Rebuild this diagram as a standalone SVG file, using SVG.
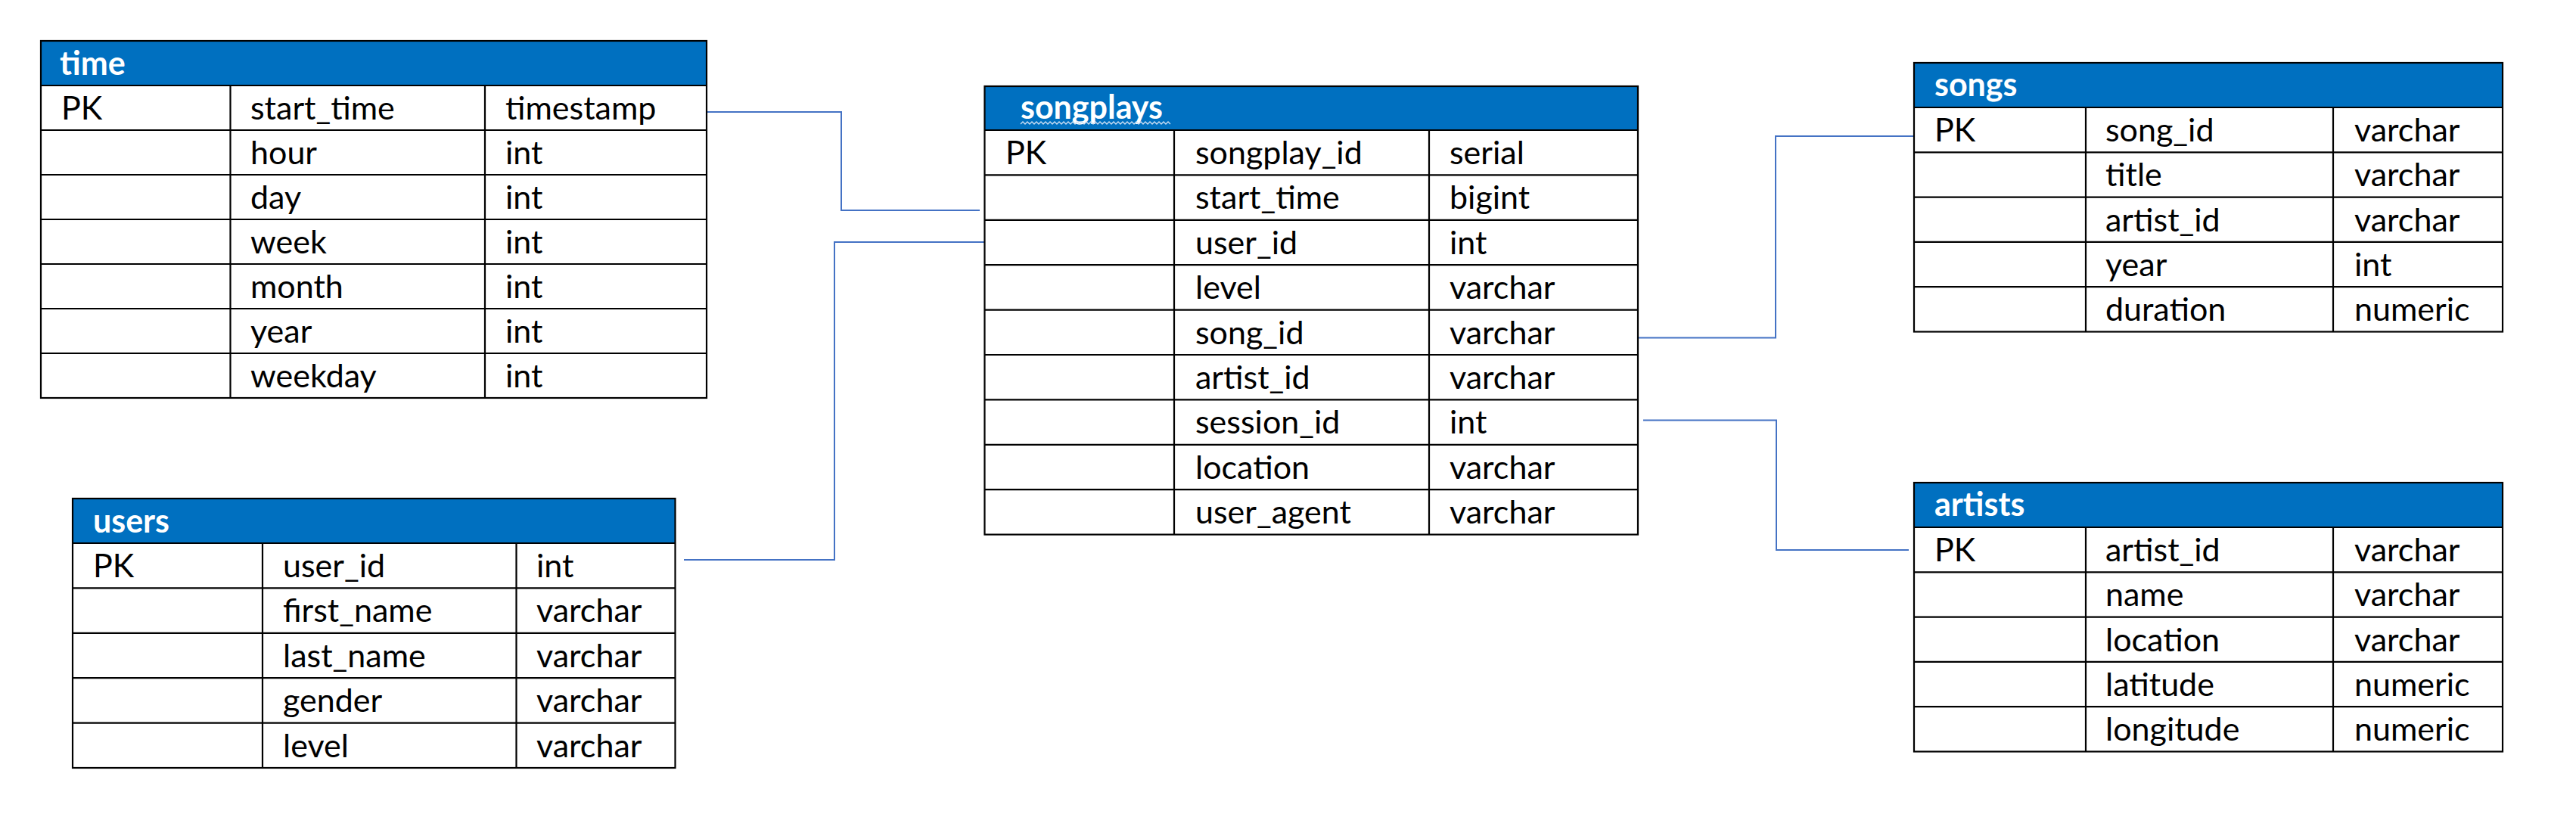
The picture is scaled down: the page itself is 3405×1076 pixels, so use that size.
<svg xmlns="http://www.w3.org/2000/svg" width="3405" height="1076" viewBox="0 0 3405 1076">
<style>
.bg{fill:#fff}
.hdr{fill:#0070C0}
.ln{stroke:#000;stroke-width:2.2;fill:none}
.t{font-family:Lato,"Liberation Sans",sans-serif;font-size:43px;fill:#000}
.h{font-family:Lato,"Liberation Sans",sans-serif;font-size:43px;font-weight:bold;fill:#fff}
.con{stroke:#4472C4;stroke-width:2;fill:none}
</style>
<rect width="3405" height="1076" fill="#fff"/>
<g id="connectors">
<polyline class="con" points="928,148 1112,148 1112,278 1295,278"/>
<polyline class="con" points="904,740 1103,740 1103,320 1302,320"/>
<polyline class="con" points="2163,446.5 2347,446.5 2347,180 2532,180"/>
<polyline class="con" points="2172,555.5 2348,555.5 2348,727 2523,727"/>
</g>
<g id="time">
<rect class="bg" x="54" y="54" width="880" height="472"/>
<rect class="hdr" x="54" y="54" width="880" height="59"/>
<path class="ln" d="M54,113H934M54,172H934M54,231H934M54,290H934M54,349H934M54,408H934M54,467H934M304.5,113V526M641,113V526"/>
<rect class="ln" x="54" y="54" width="880" height="472"/>
<text class="h" x="79" y="99">time</text>
<text class="t" x="81" y="158">PK</text>
<text class="t" x="331" y="158">start_time</text><text class="t" x="668" y="158">timestamp</text>
<text class="t" x="331" y="217">hour</text><text class="t" x="668" y="217">int</text>
<text class="t" x="331" y="276">day</text><text class="t" x="668" y="276">int</text>
<text class="t" x="331" y="335">week</text><text class="t" x="668" y="335">int</text>
<text class="t" x="331" y="394">month</text><text class="t" x="668" y="394">int</text>
<text class="t" x="331" y="453">year</text><text class="t" x="668" y="453">int</text>
<text class="t" x="331" y="512">weekday</text><text class="t" x="668" y="512">int</text>
</g>
<g id="songplays">
<rect class="bg" x="1301.5" y="114" width="863.5" height="592.6"/>
<rect class="hdr" x="1301.5" y="114" width="863.5" height="58"/>
<path class="ln" d="M1301.5,172H2165M1301.5,231.4H2165M1301.5,290.8H2165M1301.5,350.2H2165M1301.5,409.6H2165M1301.5,469H2165M1301.5,528.4H2165M1301.5,587.8H2165M1301.5,647.2H2165M1552,172V706.6M1889,172V706.6"/>
<rect class="ln" x="1301.5" y="114" width="863.5" height="592.6"/>
<text class="h" x="1349" y="157">songplays</text>
<path d="M1349,164 l3,-3 l3,3 l3,-3 l3,3 l3,-3 l3,3 l3,-3 l3,3 l3,-3 l3,3 l3,-3 l3,3 l3,-3 l3,3 l3,-3 l3,3 l3,-3 l3,3 l3,-3 l3,3 l3,-3 l3,3 l3,-3 l3,3 l3,-3 l3,3 l3,-3 l3,3 l3,-3 l3,3 l3,-3 l3,3 l3,-3 l3,3 l3,-3 l3,3 l3,-3 l3,3 l3,-3 l3,3 l3,-3 l3,3 l3,-3 l3,3 l3,-3 l3,3 l3,-3 l3,3 l3,-3 l3,3 l3,-3 l3,3 l3,-3 l3,3 l3,-3 l3,3 l3,-3 l3,3 l3,-3 l3,3 l3,-3 l3,3 l3,-3 l3,3 l3,-3 l3,3" fill="none" stroke="#cfe0f3" stroke-width="1.3"/>
<text class="t" x="1329" y="217">PK</text>
<text class="t" x="1580" y="217">songplay_id</text><text class="t" x="1916" y="217">serial</text>
<text class="t" x="1580" y="276.4">start_time</text><text class="t" x="1916" y="276.4">bigint</text>
<text class="t" x="1580" y="335.8">user_id</text><text class="t" x="1916" y="335.8">int</text>
<text class="t" x="1580" y="395.2">level</text><text class="t" x="1916" y="395.2">varchar</text>
<text class="t" x="1580" y="454.6">song_id</text><text class="t" x="1916" y="454.6">varchar</text>
<text class="t" x="1580" y="514">artist_id</text><text class="t" x="1916" y="514">varchar</text>
<text class="t" x="1580" y="573.4">session_id</text><text class="t" x="1916" y="573.4">int</text>
<text class="t" x="1580" y="632.8">location</text><text class="t" x="1916" y="632.8">varchar</text>
<text class="t" x="1580" y="692.2">user_agent</text><text class="t" x="1916" y="692.2">varchar</text>
</g>
<g id="songs">
<rect class="bg" x="2530" y="83" width="778" height="355.5"/>
<rect class="hdr" x="2530" y="83" width="778" height="59"/>
<path class="ln" d="M2530,142H3308M2530,201.3H3308M2530,260.6H3308M2530,319.9H3308M2530,379.2H3308M2757,142V438.5M3084,142V438.5"/>
<rect class="ln" x="2530" y="83" width="778" height="355.5"/>
<text class="h" x="2557" y="127">songs</text>
<text class="t" x="2557" y="187">PK</text>
<text class="t" x="2783" y="187">song_id</text><text class="t" x="3112" y="187">varchar</text>
<text class="t" x="2783" y="246.3">title</text><text class="t" x="3112" y="246.3">varchar</text>
<text class="t" x="2783" y="305.6">artist_id</text><text class="t" x="3112" y="305.6">varchar</text>
<text class="t" x="2783" y="364.9">year</text><text class="t" x="3112" y="364.9">int</text>
<text class="t" x="2783" y="424.2">duration</text><text class="t" x="3112" y="424.2">numeric</text>
</g>
<g id="artists">
<rect class="bg" x="2530" y="638" width="778" height="355.5"/>
<rect class="hdr" x="2530" y="638" width="778" height="59"/>
<path class="ln" d="M2530,697H3308M2530,756.3H3308M2530,815.6H3308M2530,874.9H3308M2530,934.2H3308M2757,697V993.5M3084,697V993.5"/>
<rect class="ln" x="2530" y="638" width="778" height="355.5"/>
<text class="h" x="2557" y="682">artists</text>
<text class="t" x="2557" y="742">PK</text>
<text class="t" x="2783" y="742">artist_id</text><text class="t" x="3112" y="742">varchar</text>
<text class="t" x="2783" y="801.3">name</text><text class="t" x="3112" y="801.3">varchar</text>
<text class="t" x="2783" y="860.6">location</text><text class="t" x="3112" y="860.6">varchar</text>
<text class="t" x="2783" y="919.9">latitude</text><text class="t" x="3112" y="919.9">numeric</text>
<text class="t" x="2783" y="979.2">longitude</text><text class="t" x="3112" y="979.2">numeric</text>
</g>
<g id="users">
<rect class="bg" x="96" y="659" width="796.5" height="356"/>
<rect class="hdr" x="96" y="659" width="796.5" height="59"/>
<path class="ln" d="M96,718H892.5M96,777.4H892.5M96,836.8H892.5M96,896.2H892.5M96,955.6H892.5M347,718V1015M682.5,718V1015"/>
<rect class="ln" x="96" y="659" width="796.5" height="356"/>
<text class="h" x="123" y="704">users</text>
<text class="t" x="123" y="763">PK</text>
<text class="t" x="374" y="763">user_id</text><text class="t" x="709" y="763">int</text>
<text class="t" x="374" y="822.4">first_name</text><text class="t" x="709" y="822.4">varchar</text>
<text class="t" x="374" y="881.8">last_name</text><text class="t" x="709" y="881.8">varchar</text>
<text class="t" x="374" y="941.2">gender</text><text class="t" x="709" y="941.2">varchar</text>
<text class="t" x="374" y="1000.6">level</text><text class="t" x="709" y="1000.6">varchar</text>
</g>
</svg>
